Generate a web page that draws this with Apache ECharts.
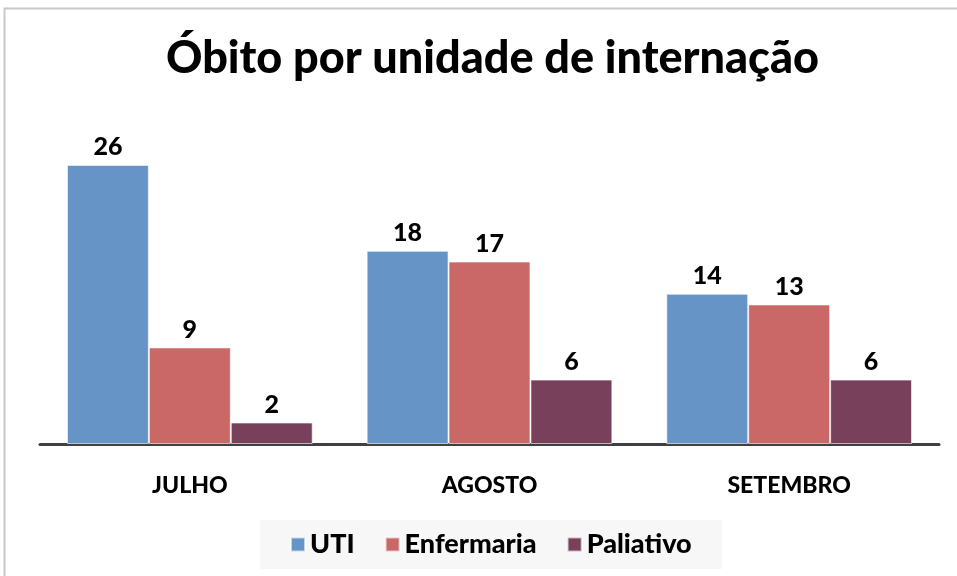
<!DOCTYPE html>
<html>
<head>
<meta charset="utf-8">
<script src="https://cdn.jsdelivr.net/npm/echarts@6/dist/echarts.min.js"></script>
<style>
  html, body { margin: 0; padding: 0; background: #fff; }
  #chart { width: 957px; height: 576px; }
</style>
</head>
<body>
<div id="chart"></div>
<script>
var meses = ["JULHO", "AGOSTO", "SETEMBRO"];
var uti = [26, 18, 14];
var enfermaria = [9, 17, 13];
var paliativo = [2, 6, 6];

var myChart = echarts.init(document.getElementById("chart"));
var fonte = "Lato, 'Open Sans', sans-serif";

function serie(nome, cor, dados) {
  return {
    name: nome,
    type: "bar",
    barGap: "0%",
    barCategoryGap: "18%",
    itemStyle: { color: cor, borderColor: "rgba(255,255,255,0.6)", borderWidth: 1 },
    label: {
      show: true,
      position: "top",
      distance: 5,
      color: "#000",
      fontFamily: fonte,
      fontWeight: 900,
      fontSize: 25
    },
    data: dados
  };
}

var option = {
  backgroundColor: "#fff",
  animation: false,
  graphic: [{
    type: "rect",
    shape: { x: 4.5, y: 8.5, width: 960, height: 580 },
    style: { fill: "none", stroke: "#c8c8c8", lineWidth: 2 },
    silent: true
  }],
  title: {
    text: "Óbito por unidade de internação",
    left: 161,
    top: 31,
    textStyle: { fontFamily: fonte, fontWeight: 900, fontSize: 45, color: "#000" }
  },
  legend: {
    bottom: 7,
    left: 260,
    itemWidth: 14,
    itemHeight: 14,
    itemGap: 30,
    padding: [11, 30, 11, 30],
    backgroundColor: "#f7f7f7",
    icon: "rect",
    textStyle: { fontFamily: fonte, fontWeight: 900, fontSize: 27, color: "#000" },
    data: ["UTI", "Enfermaria", "Paliativo"]
  },
  grid: { left: 40, right: 18, top: 122, bottom: 132 },
  xAxis: {
    type: "category",
    data: meses,
    axisLine: { lineStyle: { color: "#404040", width: 3 } },
    axisTick: { show: false },
    axisLabel: { margin: 30, color: "#000", fontFamily: fonte, fontWeight: 900, fontSize: 23 }
  },
  yAxis: {
    type: "value",
    min: 0,
    max: 30,
    show: false,
    splitLine: { show: false }
  },
  series: [
    serie("UTI", "#6794c7", uti),
    serie("Enfermaria", "#c96866", enfermaria),
    serie("Paliativo", "#78405b", paliativo)
  ]
};
myChart.setOption(option);
window.addEventListener("resize", function () { myChart.resize(); });
</script>
</body>
</html>
